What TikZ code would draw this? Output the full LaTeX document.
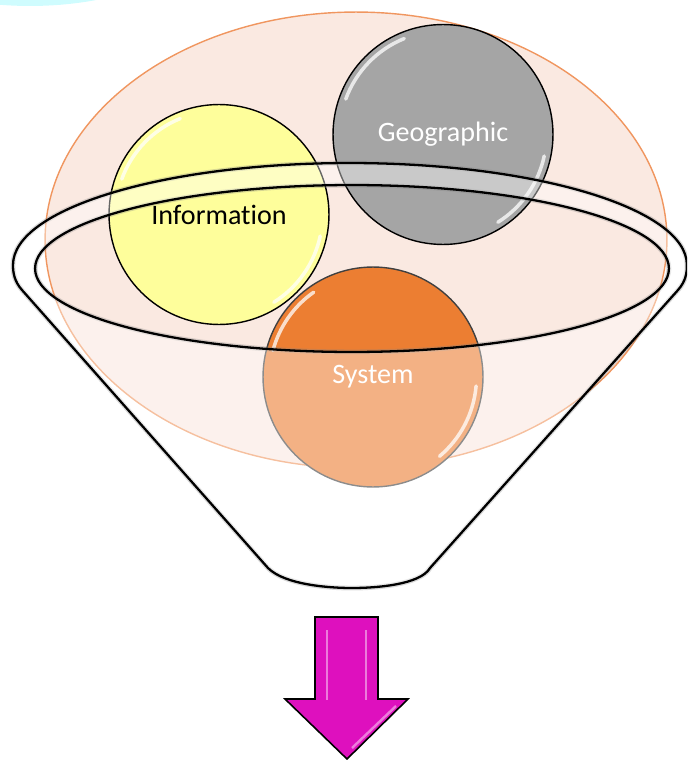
\documentclass[tikz,border=0pt]{standalone}
\usepackage{fontspec}
\setmainfont[Ligatures=NoCommon]{Carlito}
\usepackage{tikz}
\definecolor{ovalfill}{RGB}{250,233,225}
\definecolor{ovalline}{RGB}{240,150,95}
\definecolor{infofill}{RGB}{254,254,155}
\definecolor{geofill}{RGB}{165,165,165}
\definecolor{sysfill}{RGB}{236,126,50}
\definecolor{arrowfill}{RGB}{222,16,190}
\definecolor{skyfill}{RGB}{207,252,254}
\tikzset{
	ball node/.style={circle,draw=black,line width=0.8pt,minimum size=4.4cm,inner sep=0pt,font=\fontsize{16}{19}\selectfont},
	gloss/.style={white,line width=2pt,line cap=round,opacity=0.75},
	funnel/.style={draw=black,line width=1.3pt,fill=white,fill opacity=0.4,even odd rule,line join=round,
		preaction={draw=gray,line width=2.8pt,draw opacity=0.3}}
}

\begin{document}
\begin{tikzpicture}[x=0.02cm,y=-0.02cm]
	\useasboundingbox (0,0) rectangle (687,760);
	\clip (0,0) rectangle (687,760);
	% corner of the sky blob
	\fill[skyfill] (30,-100) ellipse [x radius=4cm, y radius=2.12cm];
	% big oval behind the balls
	\draw[ovalline,fill=ovalfill,line width=0.8pt] (356,240) ellipse [x radius=6.22cm, y radius=4.56cm];

	% the three balls
	\node [ball node,fill=infofill] (info) at (219,214.5) {Information};
	\node [ball node,fill=geofill,text=white] (geo) at (443,134.5) {Geographic};
	\node [ball node,fill=sysfill,draw=black!75,text=white] (sys) at (373,377) {System};

	\draw[gloss] ([shift={(112:2.07cm)}]info.center) arc[start angle=112, end angle=160, radius=2.07cm];
	\draw[gloss] ([shift={(-12:2.07cm)}]info.center) arc[start angle=-12, end angle=-58, radius=2.07cm];
	\draw[gloss] ([shift={(112:2.07cm)}]geo.center) arc[start angle=112, end angle=160, radius=2.07cm];
	\draw[gloss] ([shift={(-12:2.07cm)}]geo.center) arc[start angle=-12, end angle=-58, radius=2.07cm];
	\draw[gloss] ([shift={(125:2.07cm)}]sys.center) arc[start angle=125, end angle=165, radius=2.07cm];
	\draw[gloss] ([shift={(-5:2.07cm)}]sys.center) arc[start angle=-5, end angle=-50, radius=2.07cm];

	% funnel: outer outline with the opening cut out
	\path[funnel] (268,568) -- (22,290) .. controls (14,281) and (13,272) .. (13,265)
		arc[start angle=180, end angle=0, x radius=6.74cm, y radius=2.04cm]
		.. controls (687,272) and (686,281) .. (678,290) -- (430,568)
		.. controls (420,585) and (375,588) .. (352,588)
		.. controls (330,588) and (285,585) .. (268,568) -- cycle
		(352,268.5) ellipse [x radius=6.34cm, y radius=1.67cm];

	% down arrow
	\draw[fill=arrowfill,line width=0.9pt,line join=miter] (315,617) -- (378,617) -- (378,699) -- (408,699)
		-- (347,759) -- (285,699) -- (315,699) -- cycle;
	\draw[white,opacity=0.45,line width=1.4pt] (327,630) -- (327,700) (366,630) -- (366,700);
	\draw[white,opacity=0.45,line width=1.4pt] (352,748) -- (396,706);
\end{tikzpicture}
\end{document}
